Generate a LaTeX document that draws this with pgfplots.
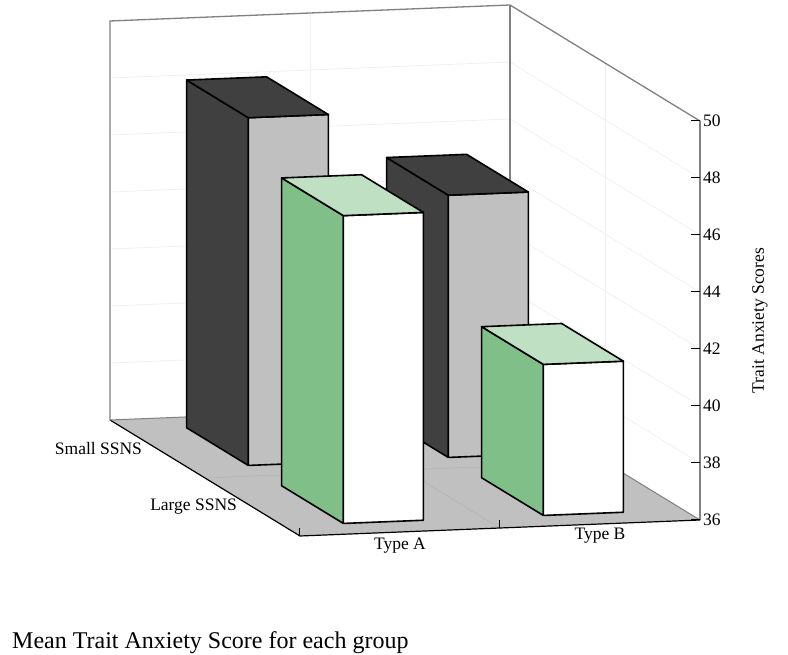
\documentclass[border=0pt]{standalone}
\usepackage{fontspec}
\setmainfont{Liberation Serif}
\usepackage{pgfplots}
\pgfplotsset{compat=1.18}
\definecolor{floorgray}{HTML}{C0C0C0}
\definecolor{darkbar}{HTML}{404040}
\definecolor{graybar}{HTML}{C0C0C0}
\definecolor{greenside}{HTML}{80C088}
\definecolor{greentop}{HTML}{C0E0C4}
\definecolor{wallline}{HTML}{808080}
\definecolor{gridc}{HTML}{F0F0F0}
\definecolor{floorgrid}{HTML}{B4B4B4}
\begin{document}
\begin{tikzpicture}
\begin{axis}[
  x={(200pt,8pt)}, y={(-95pt,58pt)}, z={(0pt,28.5pt)},
  xmin=-0.5, xmax=1.5, ymin=-0.5, ymax=1.5, zmin=36, zmax=50,
  hide axis, clip=false,
]
% floor
\addplot3[fill=floorgray, draw=none] coordinates {(-0.5,-0.5,36) (1.5,-0.5,36) (1.5,1.5,36) (-0.5,1.5,36) (-0.5,-0.5,36)};
\addplot3[floorgrid, line width=0.6pt] coordinates {(0.5,-0.5,36) (0.5,1.5,36)};
\addplot3[floorgrid, line width=0.6pt] coordinates {(-0.5,0.5,36) (1.5,0.5,36)};
\addplot3[black, line width=1.2pt] coordinates {(-0.5,1.5,36) (-0.5,-0.5,36) (1.5,-0.5,36)};
\addplot3[wallline, line width=1pt] coordinates {(-0.5,1.5,36) (1.5,1.5,36) (1.5,-0.5,36)};
% wall grid
\pgfplotsinvokeforeach{38,40,42,44,46,48}{
  \addplot3[gridc, line width=0.8pt] coordinates {(-0.5,1.5,#1) (1.5,1.5,#1) (1.5,-0.5,#1)};
}
\addplot3[gridc, line width=0.8pt] coordinates {(0.5,1.5,36) (0.5,1.5,50)};
\addplot3[gridc, line width=0.8pt] coordinates {(1.5,0.5,36) (1.5,0.5,50)};
% wall outline
\addplot3[wallline, line width=1.3pt] coordinates {(-0.5,1.5,36) (-0.5,1.5,50) (1.5,1.5,50) (1.5,-0.5,50) (1.5,-0.5,36)};
\addplot3[wallline, line width=1.3pt] coordinates {(1.5,1.5,36) (1.5,1.5,50)};
% x ticks
\addplot3[black, line width=1pt] coordinates {(-0.5,-0.5,36) (-0.5,-0.5,36.28)};
\addplot3[black, line width=1pt] coordinates {(0.5,-0.5,36) (0.5,-0.5,36.28)};

% ---- back bars (Small SSNS) ----
% Type A, Small SSNS = 48.2
\addplot3[fill=darkbar, draw=black, line width=1.6pt, line join=round] coordinates {(-0.2,0.675,36) (-0.2,1.325,36) (-0.2,1.325,48.2) (-0.2,0.675,48.2) (-0.2,0.675,36)};
\addplot3[fill=graybar, draw=black, line width=1.6pt, line join=round] coordinates {(-0.2,0.675,36) (0.2,0.675,36) (0.2,0.675,48.2) (-0.2,0.675,48.2) (-0.2,0.675,36)};
\addplot3[fill=darkbar, draw=black, line width=1.6pt, line join=round] coordinates {(-0.2,0.675,48.2) (0.2,0.675,48.2) (0.2,1.325,48.2) (-0.2,1.325,48.2) (-0.2,0.675,48.2)};
% Type B, Small SSNS = 45.2
\addplot3[fill=darkbar, draw=black, line width=1.6pt, line join=round] coordinates {(0.8,0.675,36) (0.8,1.325,36) (0.8,1.325,45.2) (0.8,0.675,45.2) (0.8,0.675,36)};
\addplot3[fill=graybar, draw=black, line width=1.6pt, line join=round] coordinates {(0.8,0.675,36) (1.2,0.675,36) (1.2,0.675,45.2) (0.8,0.675,45.2) (0.8,0.675,36)};
\addplot3[fill=darkbar, draw=black, line width=1.6pt, line join=round] coordinates {(0.8,0.675,45.2) (1.2,0.675,45.2) (1.2,1.325,45.2) (0.8,1.325,45.2) (0.8,0.675,45.2)};

% ---- front bars (Large SSNS) ----
% Type A, Large SSNS = 46.8
\addplot3[fill=greenside, draw=black, line width=1.6pt, line join=round] coordinates {(-0.2,-0.325,36) (-0.2,0.325,36) (-0.2,0.325,46.8) (-0.2,-0.325,46.8) (-0.2,-0.325,36)};
\addplot3[fill=white, draw=black, line width=1.6pt, line join=round] coordinates {(-0.2,-0.325,36) (0.2,-0.325,36) (0.2,-0.325,46.8) (-0.2,-0.325,46.8) (-0.2,-0.325,36)};
\addplot3[fill=greentop, draw=black, line width=1.6pt, line join=round] coordinates {(-0.2,-0.325,46.8) (0.2,-0.325,46.8) (0.2,0.325,46.8) (-0.2,0.325,46.8) (-0.2,-0.325,46.8)};
% Type B, Large SSNS = 41.3
\addplot3[fill=greenside, draw=black, line width=1.6pt, line join=round] coordinates {(0.8,-0.325,36) (0.8,0.325,36) (0.8,0.325,41.3) (0.8,-0.325,41.3) (0.8,-0.325,36)};
\addplot3[fill=white, draw=black, line width=1.6pt, line join=round] coordinates {(0.8,-0.325,36) (1.2,-0.325,36) (1.2,-0.325,41.3) (0.8,-0.325,41.3) (0.8,-0.325,36)};
\addplot3[fill=greentop, draw=black, line width=1.6pt, line join=round] coordinates {(0.8,-0.325,41.3) (1.2,-0.325,41.3) (1.2,0.325,41.3) (0.8,0.325,41.3) (0.8,-0.325,41.3)};

% z axis
\addplot3[wallline, line width=1.3pt] coordinates {(1.5,-0.5,36) (1.5,-0.5,50)};
\pgfplotsinvokeforeach{36,38,40,42,44,46,48,50}{
  \draw[black, line width=1pt] ([xshift=-9pt]axis cs:1.5,-0.5,#1) -- (axis cs:1.5,-0.5,#1);
  \node[anchor=west, inner sep=0pt, font=\fontsize{17.5}{20}\selectfont] at ([xshift=3pt]axis cs:1.5,-0.5,#1) {#1};
}
\node[rotate=90, font=\fontsize{17.5}{20}\selectfont] at ([xshift=60pt]axis cs:1.5,-0.5,43) {Trait Anxiety Scores};
% category labels
\node[anchor=north, font=\fontsize{17.5}{20}\selectfont] at ([yshift=-2pt]axis cs:0,-0.5,36) {Type A};
\node[anchor=north, font=\fontsize{17.5}{20}\selectfont] at ([yshift=-1pt]axis cs:1,-0.5,36) {Type B};
\node[anchor=east, font=\fontsize{17.5}{20}\selectfont] at ([xshift=-12pt]axis cs:-0.5,1,36) {Small SSNS};
\node[anchor=east, font=\fontsize{17.5}{20}\selectfont] at ([xshift=-12pt]axis cs:-0.5,0,36) {Large SSNS};
% title
\node[anchor=base west, inner sep=0pt, font=\fontsize{24}{28}\selectfont] at ([shift={(-288pt,-113pt)}]axis cs:-0.5,-0.5,36) {Mean Trait Anxiety Score for each group};
\coordinate (F) at (axis cs:-0.5,-0.5,36);
\end{axis}
\pgfresetboundingbox
\path[use as bounding box] ([shift={(-300pt,-119pt)}]F) rectangle ([shift={(488pt,536pt)}]F);
\end{tikzpicture}
\end{document}
